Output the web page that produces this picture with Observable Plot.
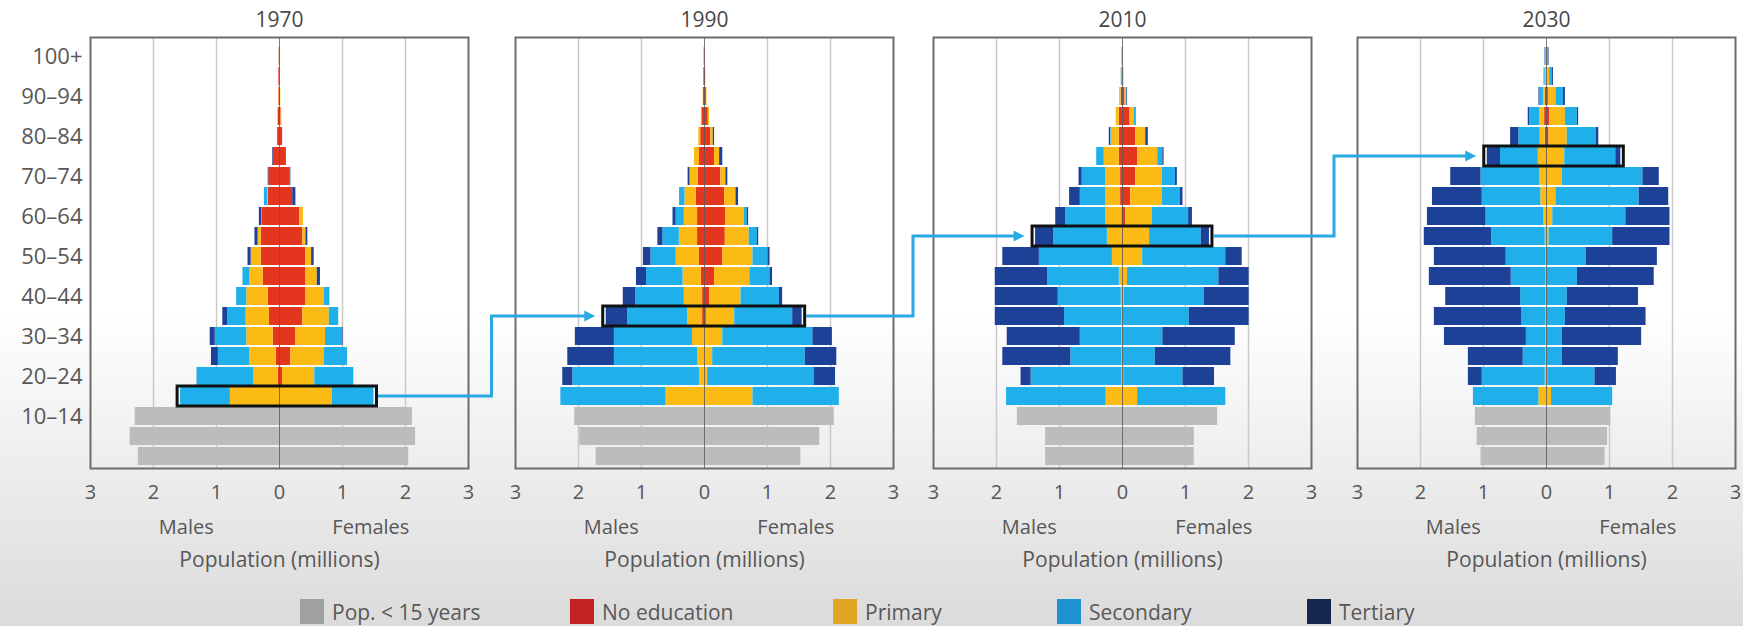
<!DOCTYPE html>
<html>
<head>
<meta charset="utf-8">
<script src="https://cdn.jsdelivr.net/npm/d3@7"></script>
<script src="https://cdn.jsdelivr.net/npm/@observablehq/plot@0.6"></script>
<style>
html, body { margin: 0; padding: 0; overflow: hidden; }
body {
  width: 1743px; height: 626px;
  background: linear-gradient(to bottom, #ffffff 0%, #ffffff 50%, #efefef 72%, #dbdbdb 100%);
  font-family: "Open Sans", sans-serif;
}
#wrap { position: relative; width: 1743px; height: 626px; }
#wrap > svg { position: absolute; top: 0; }
.leg { position: absolute; top: 599px; height: 25px; display: flex; align-items: center; }
.leg .sw { width: 24px; height: 25px; margin-right: 8px; }
.leg span { font-size: 21px; color: #585858; white-space: nowrap; }
</style>
</head>
<body>
<div id="wrap"></div>
<script>
// ---------- categories ----------
const ages = ["0–4","5–9","10–14","15–19","20–24","25–29","30–34","35–39","40–44","45–49",
              "50–54","55–59","60–64","65–69","70–74","75–79","80–84","85–89","90–94","95–99","100+"];
const under15Ages = ["0–4","5–9","10–14"];
const eduAges = ages.slice(3); // 15–19 … 100+
const ageTickLabels = ["10–14","20–24","30–34","40–44","50–54","60–64","70–74","80–84","90–94","100+"];
const years = ["1970","1990","2010","2030"];
const cohortAge = ["15–19","35–39","55–59","75–79"];
const under15 = "Pop. < 15 years";
const educLevels = ["No education","Primary","Secondary","Tertiary"];
const xTicks = [-3,-2,-1,0,1,2,3];
const sexLabels = ["Males","Females"];

// ---------- values (millions), rows 15–19 … 100+, cols: none, primary, secondary, tertiary ----------
const male1970 = [
 [0,0.78,0.79,0],[0.02,0.39,0.90,0],[0.05,0.42,0.50,0.11],[0.10,0.42,0.50,0.08],
 [0.16,0.37,0.29,0.08],[0.18,0.34,0.16,0],[0.26,0.21,0.11,0],[0.29,0.16,0,0.05],
 [0.29,0.05,0,0.05],[0.27,0.01,0,0.04],[0.18,0.01,0.05,0],[0.17,0,0,0.01],
 [0.10,0,0,0.01],[0.03,0,0,0],[0.02,0.005,0,0],[0.01,0.005,0,0],[0.01,0,0,0],[0.005,0,0,0]
];
const female1970 = [
 [0,0.84,0.66,0],[0.05,0.51,0.62,0],[0.18,0.53,0.37,0],[0.26,0.47,0.27,0.01],
 [0.37,0.42,0.15,0],[0.42,0.29,0.09,0],[0.42,0.18,0,0.05],[0.42,0.09,0,0.04],
 [0.37,0.05,0,0.03],[0.32,0.06,0,0],[0.21,0,0,0.05],[0.17,0,0,0.01],
 [0.10,0,0,0.01],[0.05,0,0,0],[0.025,0.01,0,0],[0.015,0.005,0,0],[0.01,0,0,0],[0.01,0,0,0]
];
const male1990 = [
 [0,0.61,1.67,0],[0,0.08,2.01,0.16],[0,0.11,1.32,0.74],[0,0.19,1.24,0.62],
 [0.03,0.24,0.95,0.34],[0.03,0.29,0.77,0.20],[0.05,0.29,0.58,0.16],[0.08,0.37,0.40,0.12],
 [0.11,0.29,0.26,0.08],[0.11,0.21,0.13,0.05],[0.13,0.18,0.07,0.01],[0.10,0.13,0,0.03],
 [0.08,0.08,0,0],[0.06,0.03,0,0],[0.04,0.01,0,0],[0.015,0.005,0,0],[0.01,0,0,0],[0.005,0,0,0]
];
const female1990 = [
 [0,0.77,1.37,0],[0,0.05,1.69,0.34],[0,0.13,1.47,0.50],[0,0.29,1.43,0.31],
 [0.03,0.45,0.92,0.15],[0.08,0.50,0.61,0.05],[0.16,0.56,0.32,0.04],[0.29,0.48,0.24,0.03],
 [0.33,0.38,0.13,0.02],[0.34,0.29,0.05,0.02],[0.32,0.18,0,0.04],[0.26,0.08,0,0.03],
 [0.16,0.08,0,0.05],[0.10,0.04,0,0.02],[0.06,0.02,0,0],[0.03,0.01,0,0],[0.015,0.005,0,0],[0.01,0,0,0]
];
const male2010 = [
 [0,0.26,1.58,0],[0,0.01,1.44,0.16],[0,0.01,0.81,1.08],[0,0.01,0.66,1.16],
 [0,0.01,0.91,1.10],[0,0.02,1.00,1.00],[0,0.05,1.14,0.83],[0,0.16,1.16,0.58],
 [0,0.24,0.85,0.29],[0.01,0.26,0.63,0.16],[0.03,0.24,0.40,0.17],[0.03,0.24,0.37,0.05],
 [0.05,0.24,0.12,0],[0.05,0.13,0.01,0.02],[0.05,0.05,0,0],[0.02,0.01,0.01,0],[0.01,0.005,0.005,0],[0.005,0.005,0,0]
];
const female2010 = [
 [0,0.24,1.40,0],[0,0.02,0.94,0.50],[0,0.01,0.51,1.20],[0,0.01,0.63,1.15],
 [0,0.01,1.05,0.95],[0,0.03,1.27,0.71],[0,0.08,1.45,0.48],[0,0.32,1.32,0.26],
 [0.01,0.42,0.82,0.13],[0.05,0.42,0.58,0.06],[0.13,0.50,0.29,0.04],[0.21,0.42,0.21,0.03],
 [0.24,0.32,0.08,0.02],[0.21,0.16,0,0.04],[0.12,0.07,0.03,0],[0.04,0.02,0.01,0.01],[0.01,0.005,0.005,0],[0.005,0.005,0,0]
];
const male2030 = [
 [0,0.12,1.04,0],[0,0.02,1.00,0.22],[0,0.01,0.36,0.87],[0,0.01,0.31,1.30],
 [0,0.01,0.38,1.39],[0,0.01,0.40,1.19],[0,0.01,0.55,1.30],[0,0.01,0.63,1.14],
 [0,0.02,0.85,1.07],[0,0.04,0.92,0.93],[0,0.09,0.93,0.79],[0,0.11,0.93,0.48],
 [0,0.13,0.60,0.21],[0.02,0.08,0.34,0.13],[0.03,0.08,0.16,0.02],[0.02,0.03,0.06,0.01],[0.005,0.015,0.02,0],[0,0.005,0.015,0.005]
];
const female2030 = [
 [0,0.08,0.97,0],[0,0.02,0.75,0.34],[0,0.01,0.24,0.89],[0,0.01,0.24,1.26],
 [0,0.01,0.29,1.28],[0,0.01,0.32,1.13],[0,0.01,0.48,1.22],[0,0.01,0.62,1.13],
 [0,0.04,1.01,0.91],[0,0.10,1.16,0.70],[0,0.15,1.32,0.47],[0,0.25,1.28,0.26],
 [0.01,0.28,0.81,0.08],[0.04,0.29,0.46,0.04],[0.05,0.25,0.19,0.02],[0.03,0.12,0.12,0.03],[0.01,0.04,0.04,0.02],[0,0.01,0.02,0.01]
];
// population under 15 (0–4, 5–9, 10–14)
const under15Male1970 = [2.24,2.37,2.29], under15Female1970 = [2.05,2.16,2.11];
const under15Male1990 = [1.72,1.98,2.06], under15Female1990 = [1.53,1.83,2.06];
const under15Male2010 = [1.22,1.22,1.67], under15Female2010 = [1.14,1.14,1.51];
const under15Male2030 = [1.04,1.10,1.13], under15Female2030 = [0.93,0.97,1.02];

const maleEdu = [male1970, male1990, male2010, male2030];
const femaleEdu = [female1970, female1990, female2010, female2030];
const maleU15 = [under15Male1970, under15Male1990, under15Male2010, under15Male2030];
const femaleU15 = [under15Female1970, under15Female1990, under15Female2010, under15Female2030];

// ---------- styles ----------
const barColors = ["#bcbcbc", "#e4351f", "#fcba14", "#1fb0ec", "#1c4196"];
const legendColors = ["#a0a0a0", "#c22320", "#e1a526", "#1d92d2", "#16274f"];
const panelLeft = [90, 515, 933, 1357];
const frameW = 378;
const textColor = "#575757";

const wrap = document.getElementById("wrap");
const panels = [];

years.forEach((year, i) => {
  const rows = [];
  under15Ages.forEach((age, j) => {
    rows.push({age, sex: "M", edu: under15, value: -maleU15[i][j]});
    rows.push({age, sex: "F", edu: under15, value: femaleU15[i][j]});
  });
  eduAges.forEach((age, j) => {
    educLevels.forEach((edu, k) => {
      rows.push({age, sex: "M", edu, value: -maleEdu[i][j][k]});
      rows.push({age, sex: "F", edu, value: femaleEdu[i][j][k]});
    });
  });
  const cj = eduAges.indexOf(cohortAge[i]);
  const box = [{age: cohortAge[i], x1: -d3.sum(maleEdu[i][cj]), x2: d3.sum(femaleEdu[i][cj])}];

  const ml = i === 0 ? 90 : 40;
  const mr = 8;
  const plot = Plot.plot({
    width: ml + frameW + mr,
    height: 580,
    marginTop: 37,
    marginBottom: 112,
    marginLeft: ml,
    marginRight: mr,
    style: {background: "transparent", fontFamily: "'Open Sans', sans-serif", overflow: "visible", color: textColor},
    x: {domain: [-3, 3], axis: null},
    y: {domain: ages.slice().reverse(), paddingInner: 0.1, paddingOuter: 0, insetTop: 6, axis: null},
    color: {domain: [under15, ...educLevels], range: barColors},
    marks: [
      Plot.ruleX([-2, -1, 1, 2], {stroke: "#c9c9c9", strokeWidth: 1.5}),
      Plot.barX(rows, Plot.stackX({x: "value", y: "age", fill: "edu"})),
      Plot.ruleX([0], {stroke: "#5a5a5a", strokeWidth: 1, strokeOpacity: 0.8}),
      Plot.barX(box, {x1: "x1", x2: "x2", y: "age", fill: "none", stroke: "#111", strokeWidth: 3,
                      insetLeft: -3, insetRight: -3, insetTop: -1, insetBottom: -1}),
      Plot.frame({stroke: "#6c6c6c", strokeWidth: 2}),
      Plot.axisX({ticks: xTicks, tickFormat: d => Math.abs(d), tickSize: 0, tickPadding: 16,
                  fontSize: 20, fill: textColor, label: null}),
      i === 0 ? Plot.axisY({ticks: ageTickLabels, tickSize: 0, tickPadding: 8, fontSize: 22,
                            fill: textColor, label: null}) : null,
      Plot.text([year], {frameAnchor: "top", lineAnchor: "middle", dy: -17, fontSize: 21, fill: "#474747"}),
      Plot.text(sexLabels, {x: [-1.48, 1.45], frameAnchor: "bottom", lineAnchor: "middle", dy: 59, fontSize: 20, fill: textColor}),
      Plot.text(["Population (millions)"], {frameAnchor: "bottom", lineAnchor: "middle", dy: 92, fontSize: 21, fill: textColor})
    ]
  });
  plot.style.left = (panelLeft[i] - ml) + "px";
  wrap.appendChild(plot);
  panels.push({plot, left: panelLeft[i] - ml, box: box[0]});
});

// ---------- cohort arrows (positions from each panel's scales) ----------
const W = 1743, H = 626;
const overlay = d3.create("svg").attr("width", W).attr("height", H)
  .style("left", "0px").style("pointer-events", "none").style("overflow", "visible");
const px = (p, v) => p.left + p.plot.scale("x").apply(v);
const pyc = (p, age) => { const s = p.plot.scale("y"); return s.apply(age) + s.bandwidth / 2; };
const arrowColor = "#2aa8e2";
for (let i = 0; i < panels.length - 1; i++) {
  const a = panels[i], b = panels[i + 1];
  const x0 = px(a, a.box.x2) + 4.5;
  const y0 = pyc(a, a.box.age);
  const xc = (px(a, 3) + px(b, -3)) / 2;
  const y1 = pyc(b, b.box.age);
  const xt = px(b, b.box.x1) - 4.5 - 6;
  const head = 11;
  overlay.append("path")
    .attr("d", `M${x0},${y0}H${xc}V${y1}H${xt - head + 1}`)
    .attr("fill", "none").attr("stroke", arrowColor).attr("stroke-width", 3);
  overlay.append("path")
    .attr("d", `M${xt},${y1}L${xt - head},${y1 - 5.5}L${xt - head},${y1 + 5.5}Z`)
    .attr("fill", arrowColor);
}
wrap.appendChild(overlay.node());

// ---------- legend ----------
const legendLabels = [under15, ...educLevels];
const legendLeft = [300, 570, 833, 1057, 1307];
legendLabels.forEach((lab, k) => {
  const d = document.createElement("div");
  d.className = "leg";
  d.style.left = legendLeft[k] + "px";
  d.innerHTML = `<div class="sw" style="background:${legendColors[k]}"></div><span></span>`;
  d.querySelector("span").textContent = lab;
  wrap.appendChild(d);
});
</script>
</body>
</html>
